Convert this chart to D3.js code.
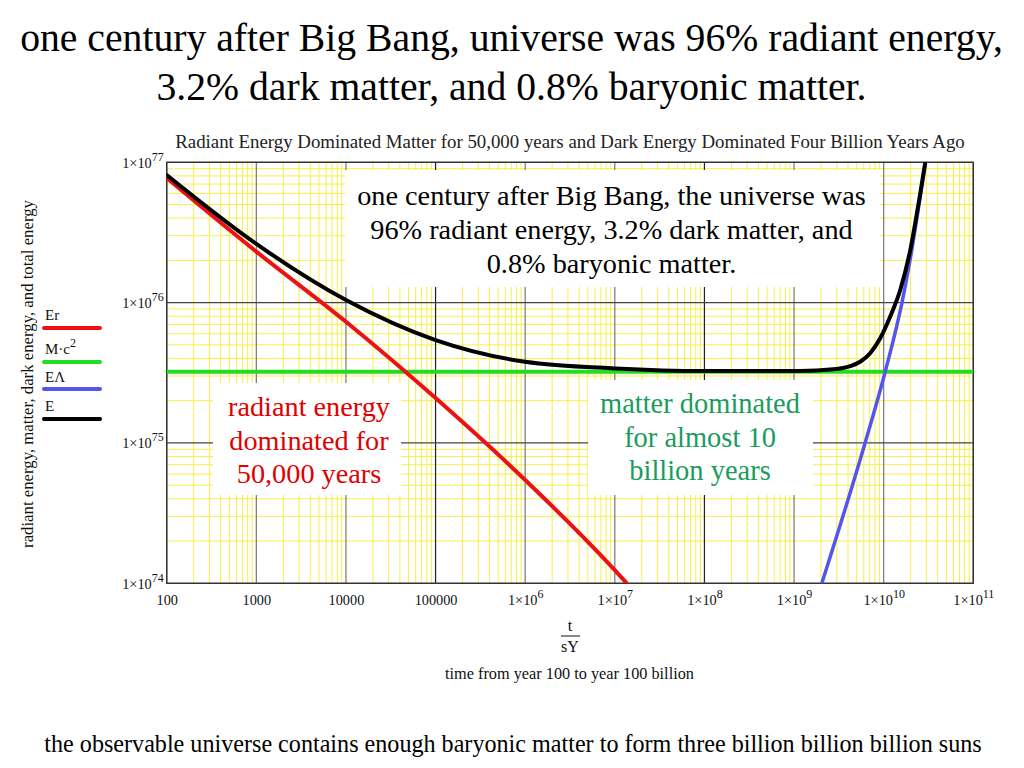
<!DOCTYPE html>
<html>
<head>
<meta charset="utf-8">
<script src="https://cdn.jsdelivr.net/npm/d3@7"></script>
<style>
  html, body { margin: 0; padding: 0; background: #fff; }
  svg { display: block; }
  svg text { font-family: "Liberation Serif", "Times New Roman", "DejaVu Serif", serif; }
</style>
</head>
<body>
<svg id="chart" width="1024" height="768" font-family="Liberation Serif, Times New Roman, serif"></svg>
<script>
// ---------- data ----------
const xTickValues = [1e2, 1e3, 1e4, 1e5, 1e6, 1e7, 1e8, 1e9, 1e10, 1e11];
const yTickValues = [1e74, 1e75, 1e76, 1e77];

// radiant energy Er
const erT    = [1e2, 1e3, 1e4, 1e5, 1e6, 1e7, 1.36e7];
const erVals = [7.73e76, 2.31e76, 7.31e75, 2.09e75, 5.45e74, 1.24e74, 1.0e74];

// matter energy M·c^2 (constant)
const mT    = [1e2, 1e11];
const mVals = [3.22e75, 3.22e75];

// dark energy EΛ
const lamT    = [2.04e9, 6.2e9, 1.04e10, 1.6e10, 1.98e10, 2.56e10, 2.9e10];
const lamVals = [1e74, 1e75, 3.22e75, 1e76, 2.05e76, 5.69e76, 9.5e76];

// total energy E
const totT    = [1e2, 1e3, 1e4, 1e5, 1e6, 1e7, 1e8, 1.17e9, 2.75e9, 4.23e9, 5.47e9, 7.06e9, 9.14e9, 1.18e10, 1.53e10, 1.98e10, 2.56e10, 2.9e10];
const totVals = [8.11e76, 2.62e76, 1.044e76, 5.41e75, 3.79e75, 3.40e75, 3.26e75, 3.26e75, 3.35e75, 3.53e75, 3.79e75, 4.36e75, 5.57e75, 7.94e75, 1.23e76, 2.37e76, 6.01e76, 9.84e76];

const legendLabels = ["Er", "M·c2", "EΛ", "E"];
const seriesColors = ["#ee1111", "#22dd22", "#5555ee", "#000000"];

// ---------- helpers ----------
const SERIF = "Liberation Serif, Times New Roman, serif";
function fitWidth(sel, target) {
  const w = sel.node().getComputedTextLength();
  const fs = parseFloat(sel.attr("font-size"));
  return fs * target / w;
}

// ---------- layout ----------
const svg = d3.select("#chart");
const L = 166.7, R = 973.3, T = 162.3, B = 583.3;
const x = d3.scaleLog().domain([1e2, 1e11]).range([L, R]);
const y = d3.scaleLog().domain([1e74, 1e77]).range([B, T]);

svg.append("rect").attr("width", 1024).attr("height", 768).attr("fill", "#fff");

// text block helper: lines centred at cx, first baseline y0, step dy, first line fitted to width
function block(lines, cx, y0, dy, targetW, color) {
  const g = svg.append("g").attr("font-family", SERIF).attr("text-anchor", "middle").attr("fill", color);
  const ts = lines.map((s, i) => g.append("text").attr("x", cx).attr("y", y0 + i * dy).attr("font-size", 20).text(s));
  const fs = fitWidth(ts[0], targetW);
  ts.forEach(t => t.attr("font-size", fs));
  return g;
}

// headline
block(["one century after Big Bang, universe was 96% radiant energy,", "3.2% dark matter, and 0.8% baryonic matter."],
  511.5, 51, 48.5, 983, "#000");

// chart title
block(["Radiant Energy Dominated Matter for 50,000 years and Dark Energy Dominated Four Billion Years Ago"],
  570, 148, 0, 790, "#222");

// ---------- grid ----------
const grid = svg.append("g");
const minorX = [], minorY = [];
for (let e = 2; e < 11; e++) for (let k = 2; k <= 9; k++) minorX.push(k * Math.pow(10, e));
for (let e = 74; e < 77; e++) for (let k = 2; k <= 9; k++) minorY.push(k * Math.pow(10, e));

grid.selectAll("line.mx").data(minorX).join("line")
  .attr("x1", d => x(d)).attr("x2", d => x(d)).attr("y1", T).attr("y2", B)
  .attr("stroke", "#f7ef4a").attr("stroke-width", 1);
grid.selectAll("line.my").data(minorY).join("line")
  .attr("y1", d => y(d)).attr("y2", d => y(d)).attr("x1", L).attr("x2", R)
  .attr("stroke", "#f7ef4a").attr("stroke-width", 1);
grid.selectAll("line.MX").data(xTickValues).join("line")
  .attr("x1", d => x(d)).attr("x2", d => x(d)).attr("y1", T).attr("y2", B)
  .attr("stroke", (d, i) => (i % 3 === 0 ? "#222" : "#777")).attr("stroke-width", 1.2);
grid.selectAll("line.MY").data(yTickValues).join("line")
  .attr("y1", d => y(d)).attr("y2", d => y(d)).attr("x1", L).attr("x2", R)
  .attr("stroke", "#444").attr("stroke-width", 1.2);

// annotation white boxes (cover the grid)
const boxes = [[345, 170, 535, 117], [213, 383, 188, 112], [588, 380, 225, 115]];
svg.selectAll("rect.box").data(boxes).join("rect")
  .attr("x", d => d[0]).attr("y", d => d[1]).attr("width", d => d[2]).attr("height", d => d[3])
  .attr("fill", "#fff");

// frame
svg.append("rect").attr("x", L).attr("y", T).attr("width", R - L).attr("height", B - T)
  .attr("fill", "none").attr("stroke", "#333").attr("stroke-width", 1.3);

// ---------- curves ----------
svg.append("clipPath").attr("id", "plotclip").append("rect")
  .attr("x", L).attr("y", T).attr("width", R - L).attr("height", B - T);
const line = d3.line().x(d => x(d[0])).y(d => y(d[1])).curve(d3.curveMonotoneX);
const zip = (a, b) => a.map((v, i) => [v, b[i]]);
const curves = svg.append("g").attr("clip-path", "url(#plotclip)").attr("fill", "none")
  .attr("stroke-linejoin", "round").attr("stroke-linecap", "round");
curves.append("path").attr("d", line(zip(mT, mVals))).attr("stroke", seriesColors[1]).attr("stroke-width", 4);
curves.append("path").attr("d", line(zip(erT, erVals))).attr("stroke", seriesColors[0]).attr("stroke-width", 4);
curves.append("path").attr("d", line(zip(lamT, lamVals))).attr("stroke", seriesColors[2]).attr("stroke-width", 3.5);
curves.append("path").attr("d", line(zip(totT, totVals))).attr("stroke", seriesColors[3]).attr("stroke-width", 4);

// ---------- annotation texts ----------
block(["one century after Big Bang, the universe was", "96% radiant energy, 3.2% dark matter, and", "0.8% baryonic matter."],
  611.5, 205, 34, 509, "#000");
block(["radiant energy", "dominated for", "50,000 years"], 309, 416, 33.5, 162, "#e00000");
block(["matter dominated", "for almost 10", "billion years"], 700, 413, 33.5, 200, "#1a9c5c");

// ---------- axes ----------
const xAxis = d3.axisBottom(x).tickValues(xTickValues).tickSize(0).tickPadding(0).tickFormat(() => "");
const gx = svg.append("g").attr("transform", `translate(0,${B})`).call(xAxis).attr("font-family", SERIF);
gx.select(".domain").remove();
gx.selectAll(".tick text").attr("y", 22).attr("dy", 0).attr("font-size", 14.3)
  .attr("font-family", SERIF).attr("fill", "#111")
  .each(function (d) {
    const s = d3.select(this);
    const e = Math.round(Math.log10(d));
    s.text(null);
    if (e <= 5) { s.text(String(d)); return; }
    s.append("tspan").text("1×10");
    s.append("tspan").attr("dy", -7).attr("font-size", 12).text(e);
  });

const yAxis = d3.axisLeft(y).tickValues(yTickValues).tickSize(0).tickPadding(0).tickFormat(() => "");
const gy = svg.append("g").attr("transform", `translate(${L},0)`).call(yAxis).attr("font-family", SERIF);
gy.select(".domain").remove();
gy.selectAll(".tick text").attr("x", -3).attr("dy", 5).attr("font-size", 14.3)
  .attr("font-family", SERIF).attr("fill", "#111")
  .each(function (d) {
    const s = d3.select(this);
    s.text(null);
    s.append("tspan").text("1×10");
    s.append("tspan").attr("dy", -7).attr("font-size", 12).text(Math.round(Math.log10(d)));
  });

// x-axis label (fraction t / sY)
const xl = svg.append("g").attr("font-family", SERIF).attr("font-size", 16).attr("text-anchor", "middle").attr("fill", "#111");
xl.append("text").attr("x", 570).attr("y", 631).text("t");
xl.append("line").attr("x1", 561).attr("x2", 580).attr("y1", 636).attr("y2", 636).attr("stroke", "#111").attr("stroke-width", 1);
xl.append("text").attr("x", 570).attr("y", 652).text("sY");
block(["time from year 100 to year 100 billion"], 569.5, 679, 0, 249, "#111");

// y-axis label
const yl = svg.append("text").attr("transform", "translate(33,374) rotate(-90)").attr("text-anchor", "middle")
  .attr("font-family", SERIF).attr("font-size", 15).attr("fill", "#111")
  .text("radiant energy, matter, dark energy, and total energy");
yl.attr("font-size", fitWidth(yl, 348));

// legend
const leg = svg.append("g").attr("font-family", SERIF).attr("font-size", 15).attr("fill", "#111");
legendLabels.forEach((lab, i) => {
  const ly = [320, 354, 382, 411][i];
  const lineY = [328, 362, 389, 419][i];
  const t = leg.append("text").attr("x", 45).attr("y", ly);
  if (lab === "M·c2") {
    t.append("tspan").text("M·c");
    t.append("tspan").attr("dy", -7).attr("font-size", 12).text("2");
  } else t.text(lab);
  leg.append("line").attr("x1", 44).attr("x2", 100).attr("y1", lineY).attr("y2", lineY)
    .attr("stroke", seriesColors[i]).attr("stroke-width", 4).attr("stroke-linecap", "round");
});

// bottom caption
block(["the observable universe contains enough baryonic matter to form three billion billion billion suns"],
  513, 752, 0, 938, "#000");
</script>
</body>
</html>
